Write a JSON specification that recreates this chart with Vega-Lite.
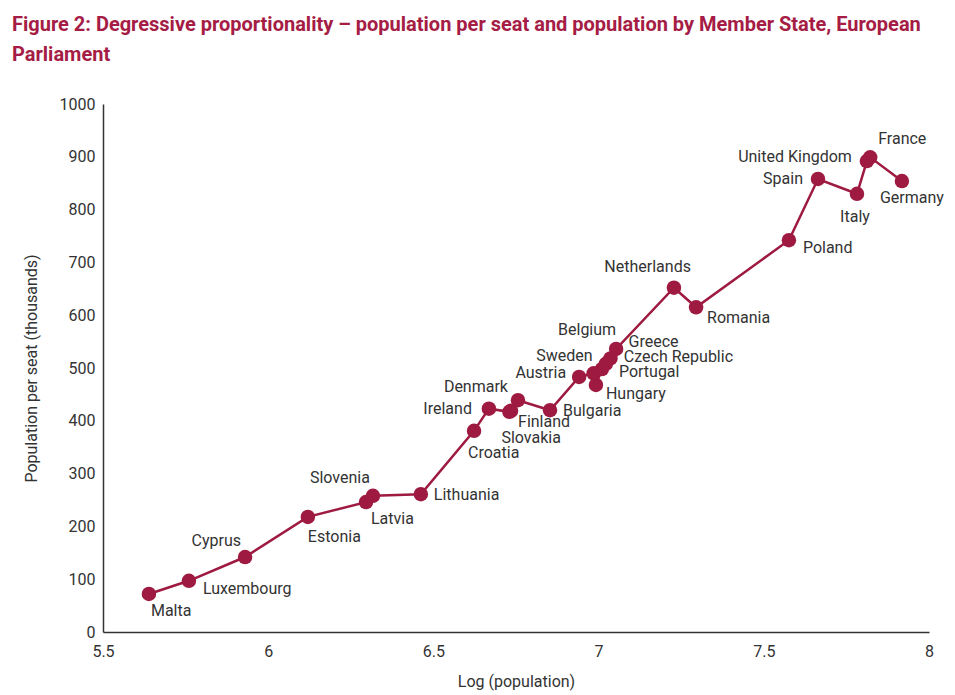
{
  "$schema": "https://vega.github.io/schema/vega-lite/v6.json",
  "autosize": "none",
  "width": 826,
  "height": 528,
  "padding": {"left": 103, "top": 104, "right": 26, "bottom": 63},
  "background": "white",
  "title": {
    "text": ["Figure 2: Degressive proportionality – population per seat and population by Member State, European", "Parliament"],
    "anchor": "start",
    "frame": "group",
    "dx": -91,
    "offset": 31,
    "font": "Roboto",
    "fontSize": 20,
    "fontWeight": "bold",
    "color": "#a51c45",
    "lineHeight": 30
  },
  "config": {
    "view": {"stroke": null},
    "font": "Roboto",
    "axis": {
      "grid": false,
      "ticks": false,
      "domainColor": "#333333",
      "domainWidth": 1.5,
      "labelFont": "Roboto",
      "labelFontSize": 16,
      "labelColor": "#333333",
      "titleFont": "Roboto",
      "titleFontSize": 16,
      "titleFontWeight": "normal",
      "titleColor": "#333333"
    }
  },
  "data": {
    "values": [
      {"country": "Malta", "logpop": 5.639, "perseat": 72},
      {"country": "Luxembourg", "logpop": 5.76, "perseat": 97},
      {"country": "Cyprus", "logpop": 5.93, "perseat": 142},
      {"country": "Estonia", "logpop": 6.12, "perseat": 218},
      {"country": "Latvia", "logpop": 6.296, "perseat": 246},
      {"country": "Slovenia", "logpop": 6.317, "perseat": 258},
      {"country": "Lithuania", "logpop": 6.462, "perseat": 261},
      {"country": "Croatia", "logpop": 6.623, "perseat": 381},
      {"country": "Ireland", "logpop": 6.668, "perseat": 423},
      {"country": "Slovakia", "logpop": 6.73, "perseat": 417},
      {"country": "Finland", "logpop": 6.735, "perseat": 419},
      {"country": "Denmark", "logpop": 6.756, "perseat": 439},
      {"country": "Bulgaria", "logpop": 6.853, "perseat": 420},
      {"country": "Austria", "logpop": 6.941, "perseat": 483},
      {"country": "Sweden", "logpop": 6.985, "perseat": 490},
      {"country": "Hungary", "logpop": 6.992, "perseat": 468},
      {"country": "Portugal", "logpop": 7.01, "perseat": 498},
      {"country": "Czech Republic", "logpop": 7.022, "perseat": 508},
      {"country": "Greece", "logpop": 7.036, "perseat": 518},
      {"country": "Belgium", "logpop": 7.053, "perseat": 536},
      {"country": "Netherlands", "logpop": 7.228, "perseat": 652},
      {"country": "Romania", "logpop": 7.295, "perseat": 615},
      {"country": "Poland", "logpop": 7.576, "perseat": 742},
      {"country": "Spain", "logpop": 7.664, "perseat": 858},
      {"country": "Italy", "logpop": 7.782, "perseat": 830},
      {"country": "United Kingdom", "logpop": 7.812, "perseat": 892},
      {"country": "France", "logpop": 7.822, "perseat": 899},
      {"country": "Germany", "logpop": 7.918, "perseat": 854}
    ]
  },
  "encoding": {
    "x": {
      "field": "logpop",
      "type": "quantitative",
      "title": "Log (population)",
      "scale": {"domain": [5.5, 8], "nice": false, "zero": false},
      "axis": {"values": [5.5, 6, 6.5, 7, 7.5, 8], "format": "~g", "labelPadding": 11, "titlePadding": 14, "labelFlush": false}
    },
    "y": {
      "field": "perseat",
      "type": "quantitative",
      "title": "Population per seat (thousands)",
      "scale": {"domain": [0, 1000], "nice": false},
      "axis": {"values": [0, 100, 200, 300, 400, 500, 600, 700, 800, 900, 1000], "format": "d", "labelPadding": 8, "titlePadding": 20, "labelFlush": false}
    }
  },
  "layer": [
    {"mark": {"type": "line", "color": "#9e1a40", "strokeWidth": 2.5}, "encoding": {"order": {"field": "logpop", "type": "quantitative"}}},
    {"mark": {"type": "circle", "color": "#9e1a40", "opacity": 1, "size": 210}},
    {
      "transform": [{"filter": {"field": "country", "oneOf": ["Lithuania", "Bulgaria"]}}],
      "mark": {"type": "text", "align": "left", "baseline": "middle", "dx": 13, "dy": 1, "fontSize": 16, "color": "#333333"},
      "encoding": {"text": {"field": "country"}}
    },
    {
      "transform": [{"filter": {"field": "country", "oneOf": ["Malta"]}}],
      "mark": {"type": "text", "align": "left", "baseline": "middle", "dx": 2, "dy": 17, "fontSize": 16, "color": "#333333"},
      "encoding": {"text": {"field": "country"}}
    },
    {
      "transform": [{"filter": {"field": "country", "oneOf": ["Luxembourg", "Poland"]}}],
      "mark": {"type": "text", "align": "left", "baseline": "middle", "dx": 14, "dy": 8, "fontSize": 16, "color": "#333333"},
      "encoding": {"text": {"field": "country"}}
    },
    {
      "transform": [{"filter": {"field": "country", "oneOf": ["Cyprus"]}}],
      "mark": {"type": "text", "align": "right", "baseline": "middle", "dx": -4, "dy": -16, "fontSize": 16, "color": "#333333"},
      "encoding": {"text": {"field": "country"}}
    },
    {
      "transform": [{"filter": {"field": "country", "oneOf": ["Estonia"]}}],
      "mark": {"type": "text", "align": "left", "baseline": "middle", "dx": 0, "dy": 20, "fontSize": 16, "color": "#333333"},
      "encoding": {"text": {"field": "country"}}
    },
    {
      "transform": [{"filter": {"field": "country", "oneOf": ["Latvia"]}}],
      "mark": {"type": "text", "align": "left", "baseline": "middle", "dx": 5, "dy": 17, "fontSize": 16, "color": "#333333"},
      "encoding": {"text": {"field": "country"}}
    },
    {
      "transform": [{"filter": {"field": "country", "oneOf": ["Slovenia"]}}],
      "mark": {"type": "text", "align": "right", "baseline": "middle", "dx": -3, "dy": -18, "fontSize": 16, "color": "#333333"},
      "encoding": {"text": {"field": "country"}}
    },
    {
      "transform": [{"filter": {"field": "country", "oneOf": ["Croatia"]}}],
      "mark": {"type": "text", "align": "left", "baseline": "middle", "dx": -6, "dy": 22, "fontSize": 16, "color": "#333333"},
      "encoding": {"text": {"field": "country"}}
    },
    {
      "transform": [{"filter": {"field": "country", "oneOf": ["Ireland"]}}],
      "mark": {"type": "text", "align": "right", "baseline": "middle", "dx": -17, "dy": 0, "fontSize": 16, "color": "#333333"},
      "encoding": {"text": {"field": "country"}}
    },
    {
      "transform": [{"filter": {"field": "country", "oneOf": ["Denmark"]}}],
      "mark": {"type": "text", "align": "right", "baseline": "middle", "dx": -10, "dy": -13, "fontSize": 16, "color": "#333333"},
      "encoding": {"text": {"field": "country"}}
    },
    {
      "transform": [{"filter": {"field": "country", "oneOf": ["Finland"]}}],
      "mark": {"type": "text", "align": "left", "baseline": "middle", "dx": 7, "dy": 11, "fontSize": 16, "color": "#333333"},
      "encoding": {"text": {"field": "country"}}
    },
    {
      "transform": [{"filter": {"field": "country", "oneOf": ["Slovakia"]}}],
      "mark": {"type": "text", "align": "left", "baseline": "middle", "dx": -8, "dy": 26, "fontSize": 16, "color": "#333333"},
      "encoding": {"text": {"field": "country"}}
    },
    {
      "transform": [{"filter": {"field": "country", "oneOf": ["Austria"]}}],
      "mark": {"type": "text", "align": "right", "baseline": "middle", "dx": -13, "dy": -4, "fontSize": 16, "color": "#333333"},
      "encoding": {"text": {"field": "country"}}
    },
    {
      "transform": [{"filter": {"field": "country", "oneOf": ["Sweden"]}}],
      "mark": {"type": "text", "align": "right", "baseline": "middle", "dx": -1, "dy": -17, "fontSize": 16, "color": "#333333"},
      "encoding": {"text": {"field": "country"}}
    },
    {
      "transform": [{"filter": {"field": "country", "oneOf": ["Belgium"]}}],
      "mark": {"type": "text", "align": "right", "baseline": "middle", "dx": 0, "dy": -19, "fontSize": 16, "color": "#333333"},
      "encoding": {"text": {"field": "country"}}
    },
    {
      "transform": [{"filter": {"field": "country", "oneOf": ["Greece"]}}],
      "mark": {"type": "text", "align": "left", "baseline": "middle", "dx": 18, "dy": -16, "fontSize": 16, "color": "#333333"},
      "encoding": {"text": {"field": "country"}}
    },
    {
      "transform": [{"filter": {"field": "country", "oneOf": ["Czech Republic"]}}],
      "mark": {"type": "text", "align": "left", "baseline": "middle", "dx": 18, "dy": -7, "fontSize": 16, "color": "#333333"},
      "encoding": {"text": {"field": "country"}}
    },
    {
      "transform": [{"filter": {"field": "country", "oneOf": ["Portugal"]}}],
      "mark": {"type": "text", "align": "left", "baseline": "middle", "dx": 17, "dy": 3, "fontSize": 16, "color": "#333333"},
      "encoding": {"text": {"field": "country"}}
    },
    {
      "transform": [{"filter": {"field": "country", "oneOf": ["Hungary"]}}],
      "mark": {"type": "text", "align": "left", "baseline": "middle", "dx": 10, "dy": 9, "fontSize": 16, "color": "#333333"},
      "encoding": {"text": {"field": "country"}}
    },
    {
      "transform": [{"filter": {"field": "country", "oneOf": ["Netherlands"]}}],
      "mark": {"type": "text", "align": "right", "baseline": "middle", "dx": 17, "dy": -21, "fontSize": 16, "color": "#333333"},
      "encoding": {"text": {"field": "country"}}
    },
    {
      "transform": [{"filter": {"field": "country", "oneOf": ["Romania"]}}],
      "mark": {"type": "text", "align": "left", "baseline": "middle", "dx": 11, "dy": 11, "fontSize": 16, "color": "#333333"},
      "encoding": {"text": {"field": "country"}}
    },
    {
      "transform": [{"filter": {"field": "country", "oneOf": ["Spain"]}}],
      "mark": {"type": "text", "align": "right", "baseline": "middle", "dx": -15, "dy": 0, "fontSize": 16, "color": "#333333"},
      "encoding": {"text": {"field": "country"}}
    },
    {
      "transform": [{"filter": {"field": "country", "oneOf": ["United Kingdom"]}}],
      "mark": {"type": "text", "align": "right", "baseline": "middle", "dx": -15, "dy": -4, "fontSize": 16, "color": "#333333"},
      "encoding": {"text": {"field": "country"}}
    },
    {
      "transform": [{"filter": {"field": "country", "oneOf": ["France"]}}],
      "mark": {"type": "text", "align": "left", "baseline": "middle", "dx": 8, "dy": -18, "fontSize": 16, "color": "#333333"},
      "encoding": {"text": {"field": "country"}}
    },
    {
      "transform": [{"filter": {"field": "country", "oneOf": ["Italy"]}}],
      "mark": {"type": "text", "align": "center", "baseline": "middle", "dx": -2, "dy": 23, "fontSize": 16, "color": "#333333"},
      "encoding": {"text": {"field": "country"}}
    },
    {
      "transform": [{"filter": {"field": "country", "oneOf": ["Germany"]}}],
      "mark": {"type": "text", "align": "left", "baseline": "middle", "dx": -22, "dy": 17, "fontSize": 16, "color": "#333333"},
      "encoding": {"text": {"field": "country"}}
    }
  ]
}
